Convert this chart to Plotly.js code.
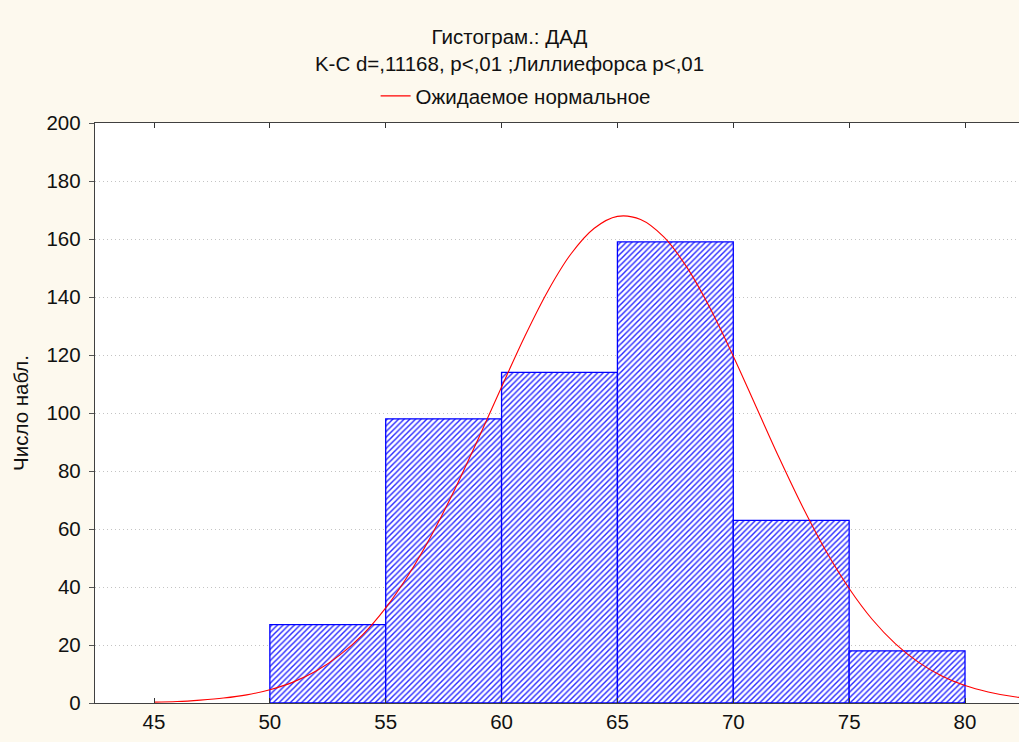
<!DOCTYPE html>
<html>
<head>
<meta charset="utf-8">
<script src="https://cdn.plot.ly/plotly-3.0.1.min.js"></script>
<style>html,body{margin:0;padding:0;background:#fdf9ee;}#chart{width:1019px;height:742px;}</style>
</head>
<body>
<div id="chart"></div>
<script>
// Histogram bins (centers) and counts
var binCenters = [52.5, 57.5, 62.5, 67.5, 72.5, 77.5];
var binCounts = [27, 98, 114, 159, 63, 18];
var binWidth = 5;

// Expected normal curve
var curveX = [45, 46, 47, 48, 49, 50, 51, 52, 53, 54, 55, 56, 57, 58, 59, 60, 61, 62, 63, 64, 65, 66, 67, 68, 69, 70, 71, 72, 73, 74, 75, 76, 77, 78, 79, 80, 81, 82, 83];
var curveY = [0.3, 0.5, 1.0, 1.7, 2.8, 4.6, 7.2, 11.0, 16.4, 23.5, 32.8, 44.4, 58.2, 74.0, 91.2, 109.0, 126.4, 142.1, 154.9, 163.7, 167.8, 166.7, 160.7, 150.2, 136.1, 119.6, 101.9, 84.2, 67.5, 52.4, 39.5, 28.8, 20.4, 14.0, 9.3, 6.0, 3.8, 2.3, 1.35];

var xTicks = [45, 50, 55, 60, 65, 70, 75, 80];
var yTicks = [0, 20, 40, 60, 80, 100, 120, 140, 160, 180, 200];

var titleText = 'Гистограм.: ДАД<br>K-C d=,11168, p&lt;,01 ;Лиллиефорса p&lt;,01';
var legendName = 'Ожидаемое нормальное';
var yTitle = 'Число набл.';

var FONT = 'Liberation Sans, Arial, sans-serif';
var FS = 20.5;

var traces = [
  {
    type: 'bar',
    x: binCenters,
    y: binCounts,
    width: binCenters.map(function(){return binWidth;}),
    showlegend: false,
    marker: {
      color: 'white',
      line: {color: '#0000ff', width: 1.3},
      pattern: {shape: '/', fgcolor: '#2a2aff', bgcolor: 'white', size: 4, solidity: 0.36}
    },
    hoverinfo: 'skip'
  },
  {
    type: 'scatter',
    mode: 'lines',
    x: curveX,
    y: curveY,
    name: legendName,
    line: {color: '#ff0000', width: 1.1, shape: 'spline'},
    showlegend: true
  }
];

var layout = {
  width: 1019,
  height: 742,
  paper_bgcolor: '#fdf9ee',
  plot_bgcolor: 'white',
  margin: {l: 95, r: 0, t: 123, b: 39},
  font: {family: FONT, size: FS, color: '#111'},
  title: {
    text: titleText,
    x: 0.5, xref: 'container', xanchor: 'center',
    y: 1 - 44/742, yref: 'container', yanchor: 'top',
    font: {family: FONT, size: FS, color: '#111'}
  },
  showlegend: true,
  legend: {
    orientation: 'h',
    x: 0.506, xref: 'container', xanchor: 'center',
    y: 1 - 96/742, yref: 'container', yanchor: 'middle',
    bgcolor: 'rgba(0,0,0,0)',
    font: {family: FONT, size: FS, color: '#111'},
    itemwidth: 30
  },
  bargap: 0,
  xaxis: {
    range: [42.454, 82.33],
    tickvals: xTicks,
    ticktext: xTicks.map(String),
    ticks: 'inside',
    ticklen: 5,
    tickcolor: '#333',
    showline: true,
    linecolor: '#404040',
    linewidth: 1.2,
    mirror: 'ticks',
    showgrid: false,
    zeroline: false,
    tickfont: {family: FONT, size: FS, color: '#111'}
  },
  yaxis: {
    range: [0, 200],
    tickvals: yTicks,
    ticks: 'outside',
    ticklen: 5,
    tickcolor: '#555',
    ticklabelstandoff: 4,
    showline: true,
    linecolor: '#404040',
    linewidth: 1.2,
    showgrid: true,
    gridcolor: '#c4c4c4',
    griddash: '1px,3px',
    gridwidth: 1,
    zeroline: false,
    tickfont: {family: FONT, size: FS, color: '#111'},
    title: {text: yTitle, font: {family: FONT, size: FS, color: '#111'}, standoff: 12}
  }
};

Plotly.newPlot('chart', traces, layout, {displayModeBar: false, staticPlot: true});
</script>
</body>
</html>
